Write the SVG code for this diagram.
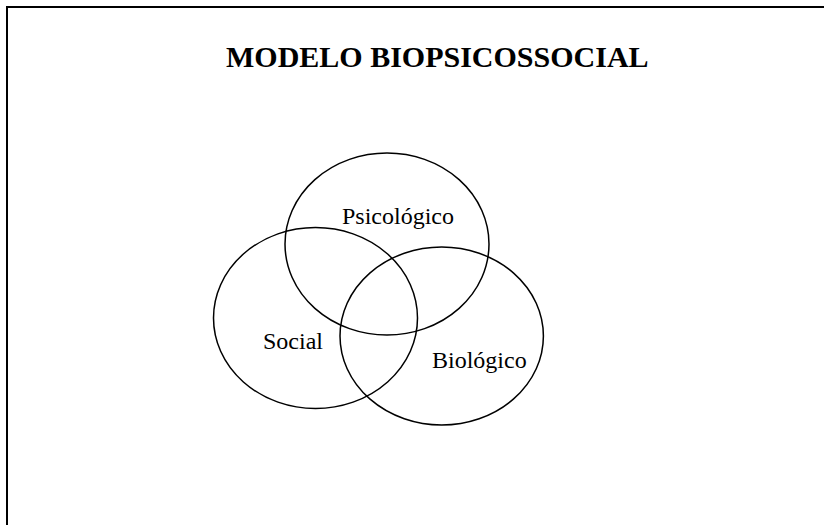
<svg xmlns="http://www.w3.org/2000/svg" width="824" height="525" viewBox="0 0 824 525">
<style>
.frame{fill:none;stroke:#000;stroke-width:2}
.circ{fill:none;stroke:#000;stroke-width:1.5}
.lbl{font-family:"Liberation Serif","Times New Roman",serif;font-size:24px;fill:#000}
.title{font-family:"Liberation Serif","Times New Roman",serif;font-size:30px;font-weight:bold;fill:#000}
</style>
<rect x="0" y="0" width="824" height="525" fill="#fff"/>
<rect class="frame" x="7" y="7" width="830" height="530"/>
<text class="title" x="226" y="67">MODELO BIOPSICOSSOCIAL</text>
<g id="connectors"></g>
<g id="psicologico">
<ellipse class="circ" cx="387" cy="244" rx="102" ry="91"/>
<text class="lbl" x="342" y="224">Psicológico</text>
</g>
<g id="social">
<ellipse class="circ" cx="315.5" cy="318" rx="102" ry="90.5"/>
<text class="lbl" x="263" y="349">Social</text>
</g>
<g id="biologico">
<ellipse class="circ" cx="441.7" cy="336" rx="101.7" ry="89"/>
<text class="lbl" x="432" y="368">Biológico</text>
</g>
</svg>
